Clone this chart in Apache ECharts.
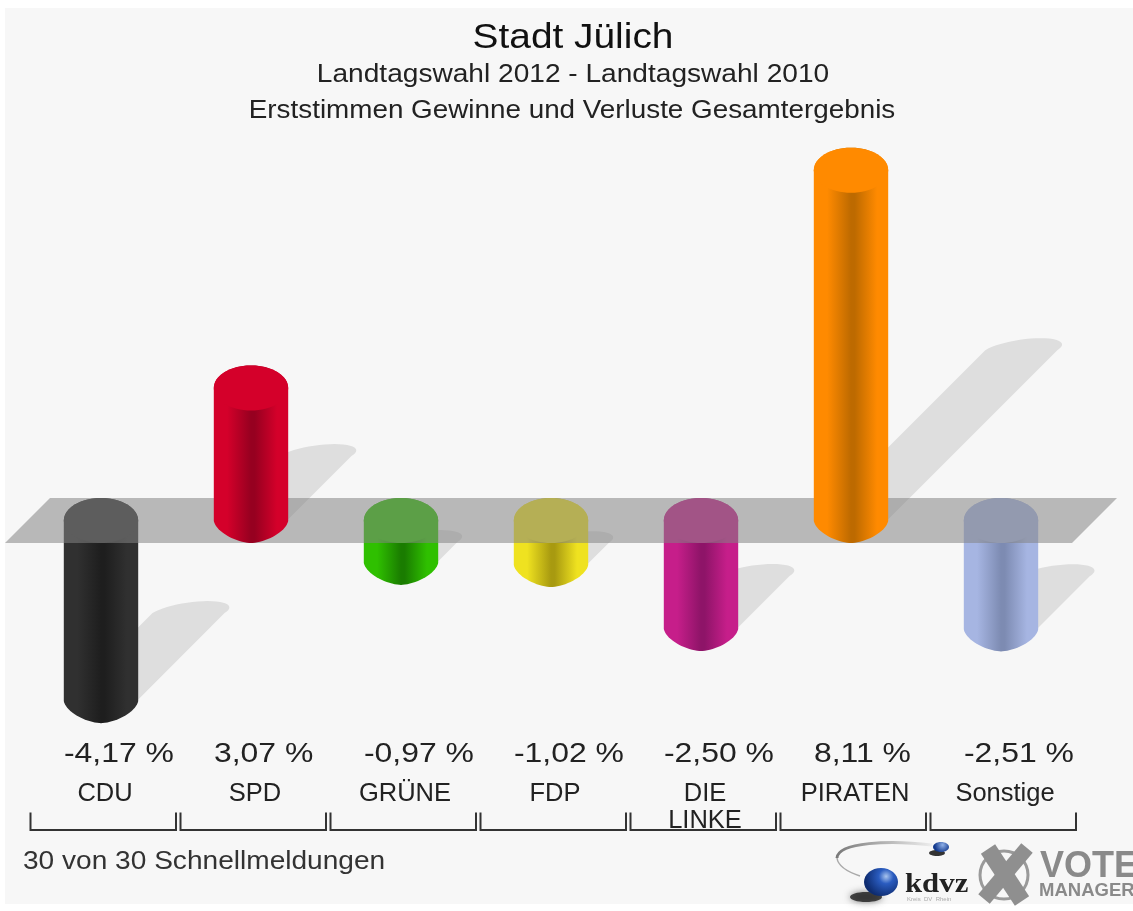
<!DOCTYPE html>
<html><head><meta charset="utf-8">
<script src="https://cdn.jsdelivr.net/npm/echarts@6/dist/echarts.min.js"></script>
<style>html,body{margin:0;padding:0;background:#fff}#c{width:1133px;height:911px;filter:blur(0.6px)}</style>
</head><body><div id="c"></div>
<script>
const categories = ['CDU','SPD','GRÜNE','FDP','DIE\nLINKE','PIRATEN','Sonstige'];
const values = [-4.17, 3.07, -0.97, -1.02, -2.50, 8.11, -2.51];
const edgeColors = ['#303030','#d4002a','#2fc000','#efe220','#c61e8a','#ff8a00','#a6b5e2'];
const coreColors = ['#1e1e1e','#960020','#1a7c00','#a89a10','#8e1468','#bd6a00','#7d8bb2'];
const titleLines = ['Stadt Jülich','Landtagswahl 2012 - Landtagswahl 2010','Erststimmen Gewinne und Verluste Gesamtergebnis'];
const footerText = '30 von 30 Schnellmeldungen';

const FONT = '"Liberation Sans", Arial, sans-serif';
const RX = 37.2, RY = 22.5;
const seriesData = values.map((v,i)=>[i,v]);

function ellipseArc(cx, cy, rx, ry, a0, a1, n, exp){
  const pts=[]; const e = 2/(exp||2);
  for(let k=0;k<=n;k++){
    const a=a0+(a1-a0)*k/n, c=Math.cos(a), s=Math.sin(a);
    pts.push([cx+rx*Math.sign(c)*Math.pow(Math.abs(c),e), cy+ry*Math.sign(s)*Math.pow(Math.abs(s),e)]);
  }
  return pts;
}
function renderBar(wantPositive){
  return function(params, api){
    const i=api.value(0), v=api.value(1);
    if((v>=0)!==wantPositive) return null;
    const cx=api.coord([i,0])[0];
    const yT=api.coord([i,Math.max(v,0)])[1], yB=api.coord([i,Math.min(v,0)])[1];
    const body=[...ellipseArc(cx,yT,RX,RY,Math.PI,2*Math.PI,24), ...ellipseArc(cx,yB,RX,RY,0,Math.PI,40,1.65)];
    const e=edgeColors[i], d=coreColors[i];
    return {type:'group',children:[
      {type:'polygon',shape:{points:body},style:{fill:{type:'linear',x:0,y:0,x2:1,y2:0,colorStops:[
        {offset:0,color:e},{offset:.18,color:e},{offset:.5,color:d},{offset:.55,color:d},{offset:.85,color:e},{offset:1,color:e}]}}},
      {type:'ellipse',shape:{cx:cx,cy:yT,rx:RX,ry:RY},style:{fill:e}}
    ]};
  };
}
function renderShadow(params, api){
  const i=api.value(0), v=api.value(1);
  const cx=api.coord([i,0])[0], yB=api.coord([i,Math.min(v,0)])[1];
  const d=21*Math.abs(v);
  const top=[];
  for(let k=0;k<=24;k++){
    const a=Math.PI+Math.PI*k/24;
    top.push([cx+d+36*Math.cos(a)-1.6*12*Math.sin(a), yB-d+12*Math.sin(a)]);
  }
  return {type:'polygon',shape:{points:[[cx-36,yB],...top,[cx+36,yB]]},style:{fill:'#dedede'}};
}
function renderPlane(params, api){
  const c0=api.coord([0,0]), c6=api.coord([6,0]);
  const h=RY;
  return {type:'polygon',shape:{points:[[c0[0]-51,c0[1]-h],[c6[0]+116,c0[1]-h],[c6[0]+71,c0[1]+h],[c0[0]-96,c0[1]+h]]},
    style:{fill:'rgba(131,131,131,0.54)'}};
}
function renderValueLabel(params, api){
  const i=api.value(0), v=api.value(1);
  const cx=api.coord([i,0])[0];
  return {type:'text',x:cx-37,y:754,scaleX:1.16,style:{text:v.toFixed(2).replace('.',',')+' %',font:'27.5px '+FONT,fill:'#222',textAlign:'left',textVerticalAlign:'middle'}};
}
function renderBracket(params, api){
  const cx=api.coord([api.value(0),0])[0];
  return {type:'polyline',shape:{points:[[cx-70.5,812.5],[cx-70.5,830],[cx+75,830],[cx+75,812.5]]},style:{stroke:'#333',lineWidth:2,fill:null}};
}

const tText=(t,x,y,size,sx,color,align)=>({type:'text',z:6,x:x,y:y,scaleX:sx,style:{text:t,font:size+'px '+FONT,fill:color,textAlign:align||'center',textVerticalAlign:'middle'}});

const logo=[
 {type:'rect',z:-100,shape:{x:5,y:8,width:1128,height:896},style:{fill:'#f7f7f7'}},
 tText(titleLines[0],573,38,35,1.11,'#111'),
 tText(titleLines[1],573,74.5,26.5,1.06,'#222'),
 tText(titleLines[2],572,110.5,26.5,1.05,'#222'),
 tText(footerText,23,862,26,1.08,'#333','left'),
 {type:'bezierCurve',z:1,shape:{x1:932,y1:845,cpx1:890,cpy1:840,cpx2:838,cpy2:842,x2:837,y2:858},style:{stroke:{type:'linear',x:1,y:0,x2:0,y2:0,colorStops:[{offset:0,color:'#f0f0f0'},{offset:1,color:'#777'}]},lineWidth:3,fill:null}},
 {type:'bezierCurve',z:1,shape:{x1:837,y1:858,cpx1:838,cpy1:866,cpx2:848,cpy2:872,x2:860,y2:876},style:{stroke:'#aaa',lineWidth:1.5,fill:null}},
 {type:'ellipse',z:1,shape:{cx:866,cy:897,rx:16,ry:5},style:{fill:'rgba(30,30,30,0.8)',shadowBlur:7,shadowColor:'rgba(60,60,60,0.8)'}},
 {type:'ellipse',z:2,shape:{cx:881,cy:882,rx:17,ry:14},style:{fill:{type:'radial',x:.65,y:.3,r:.75,colorStops:[{offset:0,color:'#a8c4ee'},{offset:.35,color:'#2a5cc0'},{offset:1,color:'#0e2c70'}]}}},
 {type:'ellipse',z:1,shape:{cx:937,cy:853,rx:8,ry:3},style:{fill:'#333'}},
 {type:'ellipse',z:2,shape:{cx:941,cy:847,rx:8,ry:5},style:{fill:{type:'radial',x:.6,y:.3,r:.8,colorStops:[{offset:0,color:'#8fb0e8'},{offset:1,color:'#12388c'}]}}},
 {type:'text',z:2,x:905,y:885,scaleX:1.14,style:{text:'kdvz',font:'bold 27px "Liberation Serif", serif',fill:'#222',textVerticalAlign:'middle'}},
 {type:'text',z:2,x:907,y:899,style:{text:'Kreis  DV  Rhein',font:'6px '+FONT,fill:'#aaa',textVerticalAlign:'middle'}},
 {type:'circle',z:2,shape:{cx:1004,cy:875,r:24},style:{stroke:'#9a9a9a',lineWidth:3,fill:null}},
 {type:'line',z:3,shape:{x1:988,y1:849,x2:1022,y2:901},style:{stroke:'#8f8f8f',lineWidth:17}},
 {type:'line',z:3,shape:{x1:1027,y1:848,x2:984,y2:899},style:{stroke:'#8f8f8f',lineWidth:15}},
 {type:'text',z:3,x:1040,y:867,style:{text:'VOTE',font:'bold 36px '+FONT,fill:'#8a8a8a',textVerticalAlign:'middle'}},
 {type:'text',z:3,x:1039,y:891,style:{text:'MANAGER',font:'bold 18.5px '+FONT,fill:'#8a8a8a',textVerticalAlign:'middle'}}
];

const chart=echarts.init(document.getElementById('c'));
chart.setOption({
  animation:false,
  backgroundColor:'#ffffff',
  grid:{left:26,width:1050,top:131.7,height:604.8,containLabel:false},
  xAxis:{type:'category',data:categories,axisLine:{show:false},axisTick:{show:false},splitLine:{show:false},
    axisLabel:{interval:0,margin:44,color:'#222',fontFamily:FONT,fontSize:25.5,lineHeight:27,fontWeight:'normal',padding:[0,0,0,8]}},
  yAxis:{type:'value',min:-5,max:9,show:false},
  graphic:{elements:logo},
  series:[
    {type:'custom',z:1,coordinateSystem:'cartesian2d',data:seriesData,renderItem:renderShadow,silent:true},
    {type:'custom',z:2,coordinateSystem:'cartesian2d',data:seriesData,renderItem:renderBar(false),silent:true},
    {type:'custom',z:3,coordinateSystem:'cartesian2d',data:[seriesData[0]],renderItem:renderPlane,silent:true},
    {type:'custom',z:4,coordinateSystem:'cartesian2d',data:seriesData,renderItem:renderBar(true),silent:true},
    {type:'custom',z:5,coordinateSystem:'cartesian2d',data:seriesData,renderItem:renderValueLabel,silent:true},
    {type:'custom',z:5,coordinateSystem:'cartesian2d',data:seriesData,renderItem:renderBracket,silent:true}
  ]
});
</script></body></html>
